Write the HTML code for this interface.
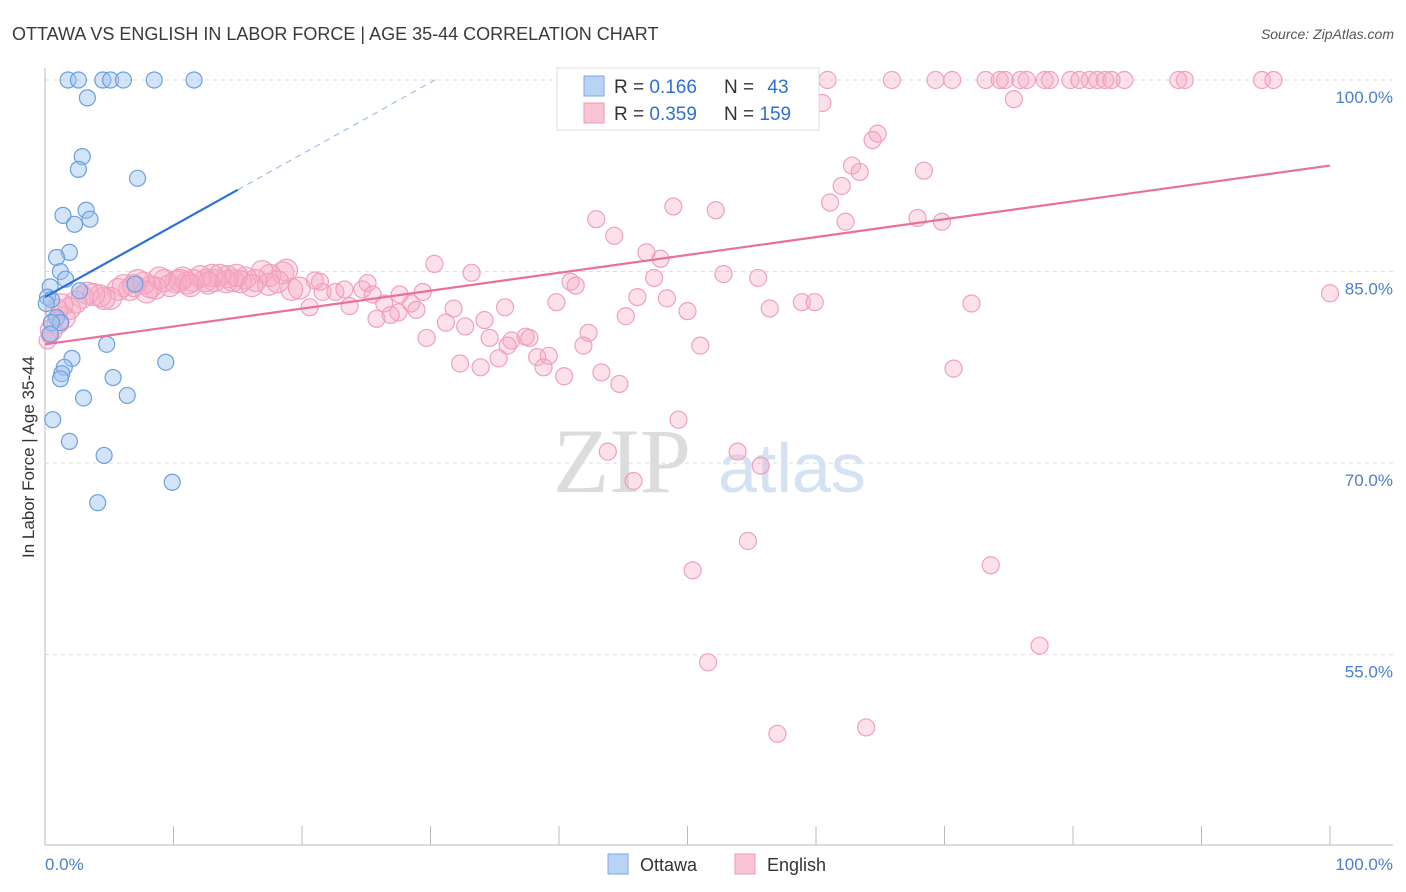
<!DOCTYPE html>
<html><head><meta charset="utf-8"><style>
body{margin:0;background:#fff;font-family:"Liberation Sans",sans-serif}
svg{display:block}
</style></head><body>
<svg id="chart" width="1406" height="892" xmlns="http://www.w3.org/2000/svg">
<text x="12" y="40" font-size="18" fill="#3a3a3a">OTTAWA VS ENGLISH IN LABOR FORCE | AGE 35-44 CORRELATION CHART</text>
<text x="1394" y="39" font-size="14" font-style="italic" fill="#555" text-anchor="end">Source: ZipAtlas.com</text>
<g>
<text x="553" y="492" font-family="Liberation Serif,serif" font-size="92" fill="#dcdcdc">ZIP</text>
<text x="718" y="492" font-size="70" fill="#d4e2f4">atlas</text>
</g>
<g id="grid"></g>
<g id="axes"></g>
<g id="marks"></g>
<text transform="translate(34,457) rotate(-90)" font-size="17" fill="#333" text-anchor="middle">In Labor Force | Age 35-44</text>
<text x="45" y="870" font-size="17" fill="#4a7fd4">0.0%</text>
<text x="1393" y="870" font-size="17" fill="#4a7fd4" text-anchor="end">100.0%</text>
<g>
<rect x="557" y="68" width="262" height="62" fill="#fff" stroke="#ddd"/>
<rect x="584" y="76" width="20" height="20" fill="#b9d3f5" stroke="#7aa8e6"/>
<rect x="584" y="103" width="20" height="20" fill="#f9c4d4" stroke="#ef9ab5"/>
<text x="614" y="93" font-size="19" fill="#333">R = <tspan fill="#2e6fd6">0.166</tspan></text>
<text x="724" y="93" font-size="19" fill="#333">N = <tspan dx="8" fill="#2e6fd6">43</tspan></text>
<text x="614" y="120" font-size="19" fill="#333">R = <tspan fill="#2e6fd6">0.359</tspan></text>
<text x="724" y="120" font-size="19" fill="#333">N = <tspan fill="#2e6fd6">159</tspan></text>
</g>
<g>
<rect x="608" y="854" width="20" height="20" fill="#b9d3f5" stroke="#7aa8e6"/>
<text x="640" y="871" font-size="18" fill="#333">Ottawa</text>
<rect x="735" y="854" width="20" height="20" fill="#f9c4d4" stroke="#ef9ab5"/>
<text x="767" y="871" font-size="18" fill="#333">English</text>
</g>
</svg>
<script>
const yTicks=[55,70,85,100];
const yTickLabels=["55.0%","70.0%","85.0%","100.0%"];
const xTicks=[0,10,20,30,40,50,60,70,80,90,100];
const ottawaX=[1.8,2.6,4.5,5.1,6.1,8.5,11.6,3.3,2.9,2.6,7.2,3.2,1.4,3.5,2.3,1.9,0.9,1.2,1.6,0.4,2.7,0.2,0.5,0.1,0.9,1.2,0.5,0.4,4.8,2.1,1.5,1.3,1.2,9.4,5.3,3.0,6.4,0.6,1.9,4.6,9.9,4.1,7.0];
const ottawaY=[100,100,100,100,100,100,100,98.6,94.0,93.0,92.3,89.8,89.4,89.1,88.7,86.5,86.1,85.0,84.4,83.8,83.5,83.0,82.8,82.5,81.4,81.0,81.0,80.1,79.3,78.2,77.5,77.0,76.6,77.9,76.7,75.1,75.3,73.4,71.7,70.6,68.5,66.9,84.0];
const englishX=[57.2,58.0,60.9,65.9,69.3,70.6,73.2,74.3,74.7,75.9,76.4,77.8,78.2,79.8,80.5,81.3,81.9,82.5,83.0,84.0,88.2,88.7,94.7,95.6,
60.5,75.4,59.1,64.8,64.4,62.8,63.4,68.4,62.0,61.1,48.9,52.2,42.9,62.3,67.9,69.8,44.3,46.8,47.9,30.3,33.2,52.8,55.5,47.4,40.9,41.3,46.1,48.4,39.8,50.0,45.2,56.4,58.9,59.9,72.1,100,35.8,31.8,34.2,31.2,32.7,29.7,34.6,36.3,37.4,37.7,42.3,41.9,36.0,51.0,35.3,38.3,39.2,32.3,33.9,38.8,40.4,43.3,44.7,70.7,49.3,53.9,55.7,43.8,45.8,54.7,50.4,73.6,77.4,51.6,57.0,63.9,
26.4,28.5,27.5,25.8,26.9,28.9,22.6,23.3,21.6,20.6,23.7,25.1,24.7,25.5,27.6,29.4,21.0,21.4,19.2,19.8,18.5,18.8,17.5,16.9,16.4,15.6,15.2,14.6,14.2,13.6,13.2,13.0,12.5,12.1,11.5,11.1,10.7,10.2,9.7,9.3,8.9,8.6,8.2,7.7,7.2,6.6,6.1,5.7,5.1,4.6,4.3,3.8,3.3,2.9,2.4,1.9,1.5,1.0,0.5,0.2,0.4,0.9,1.3,6.9,7.9,10.5,11.3,12.7,14.1,14.9,16.1,17.4,18.1];
const englishY=[100,100,100,100,100,100,100,100,100,100,100,100,100,100,100,100,100,100,100,100,100,100,100,100,
98.2,98.5,97.4,95.8,95.3,93.3,92.8,92.9,91.7,90.4,90.1,89.8,89.1,88.9,89.2,88.9,87.8,86.5,86.0,85.6,84.9,84.8,84.5,84.5,84.2,83.9,83.0,82.9,82.6,81.9,81.5,82.1,82.6,82.6,82.5,83.3,82.2,82.1,81.2,81.0,80.7,79.8,79.8,79.6,79.9,79.8,80.2,79.2,79.2,79.2,78.2,78.3,78.4,77.8,77.5,77.5,76.8,77.1,76.2,77.4,73.4,70.9,69.8,70.9,68.6,63.9,61.6,62.0,55.7,54.4,48.8,49.3,
82.5,82.5,81.8,81.3,81.6,82.0,83.4,83.6,83.4,82.2,82.3,84.1,83.6,83.2,83.2,83.4,84.3,84.2,83.6,83.7,84.9,85.1,84.7,85.0,84.3,84.5,84.2,84.3,84.6,84.7,84.3,84.7,84.3,84.6,84.3,84.1,84.5,84.2,83.9,84.3,84.5,83.7,83.8,84.1,84.3,83.6,83.9,83.6,82.9,82.9,83.1,83.2,83.3,83.0,82.6,82.1,81.4,81.0,80.4,79.6,80.0,82.0,82.4,83.9,83.4,84.3,83.9,84.1,84.2,84.7,83.9,84.0,84.2];
const ottawaTrend=[[0,83.0],[15,91.4],[30.7,100.2]];
const englishTrend=[[0,79.3],[100,93.3]];

const NS="http://www.w3.org/2000/svg";
const X0=45,X1=1330,YTOP=80,PERY=12.77;
function xs(v){return X0+(X1-X0)*v/100;}
function ys(v){return YTOP+(100-v)*PERY;}
function mk(tag,attrs,parent){const e=document.createElementNS(NS,tag);for(const k in attrs)e.setAttribute(k,attrs[k]);parent.appendChild(e);return e;}
const grid=document.getElementById('grid'),axes=document.getElementById('axes'),marks=document.getElementById('marks');
yTicks.forEach((t,i)=>{
  const l=mk('line',{x1:X0,x2:1393,y1:ys(t),y2:ys(t),stroke:'#ddd','stroke-dasharray':'4,4'},grid);
  
  
  const tx=mk('text',{x:1393,y:ys(t)+23,'font-size':17,fill:'#4a7fd4','text-anchor':'end'},grid);
  tx.textContent=yTickLabels[i];
  
  
});
const ax=mk('line',{x1:X0,x2:X0,y1:68,y2:845,stroke:'#bbb'},axes);


const bx=mk('line',{x1:X0,x2:1393,y1:845,y2:845,stroke:'#bbb'},axes);


xTicks.forEach(t=>{
  const l=mk('line',{x1:xs(t),x2:xs(t),y1:826,y2:845,stroke:'#bbb'},axes);
  
  
});
englishX.forEach((x,i)=>{
  const c=mk('circle',{cx:xs(x),cy:ys(englishY[i]),r:(x<20&&englishY[i]>80&&englishY[i]<86)?11:8.5,fill:'rgba(247,170,195,0.35)',stroke:'#f0a0bb','stroke-width':1.2},marks);
  
  
});
ottawaX.forEach((x,i)=>{
  const c=mk('circle',{cx:xs(x),cy:ys(ottawaY[i]),r:8,fill:'rgba(160,195,240,0.45)',stroke:'#6a9fe0','stroke-width':1.2},marks);
  
  
});
const et=mk('line',{x1:xs(englishTrend[0][0]),y1:ys(englishTrend[0][1]),x2:xs(englishTrend[1][0]),y2:ys(englishTrend[1][1]),stroke:'#e8709a','stroke-width':2.2},marks);


const ot=mk('line',{x1:xs(ottawaTrend[0][0]),y1:ys(ottawaTrend[0][1]),x2:xs(ottawaTrend[1][0]),y2:ys(ottawaTrend[1][1]),stroke:'#2e6fd6','stroke-width':2.2},marks);


const od=mk('line',{x1:xs(ottawaTrend[1][0]),y1:ys(ottawaTrend[1][1]),x2:xs(ottawaTrend[2][0]),y2:ys(ottawaTrend[2][1]),stroke:'#8fb3e6','stroke-width':1,'stroke-dasharray':'6,5'},marks);


</script>
</body></html>
